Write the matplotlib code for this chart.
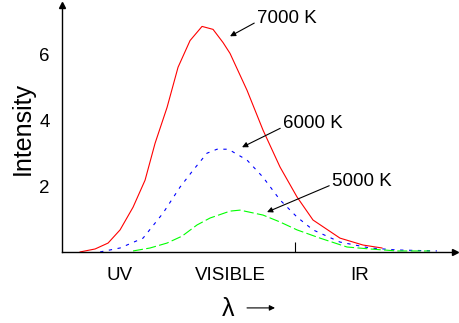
import numpy as np
import matplotlib.pyplot as plt

plt.rcParams['font.family'] = ['Liberation Sans', 'DejaVu Sans']

# curves (x in arbitrary wavelength units)
x7000 = [18, 33, 46, 58, 71, 83, 93, 105, 116, 128, 140, 151, 161, 168, 185, 201, 218, 235, 251, 278, 301, 320]
y7000 = [0.0, 0.09, 0.27, 0.67, 1.36, 2.18, 3.30, 4.39, 5.61, 6.42, 6.85, 6.76, 6.36, 6.03, 4.91, 3.70, 2.58, 1.67, 0.97, 0.42, 0.21, 0.12]

x6000 = [38, 58, 81, 101, 118, 131, 145, 155, 165, 168, 185, 201, 218, 235, 251, 278, 308, 335, 375]
y6000 = [0.0, 0.12, 0.42, 1.18, 1.97, 2.48, 3.0, 3.12, 3.12, 3.09, 2.79, 2.27, 1.58, 1.06, 0.67, 0.30, 0.12, 0.06, 0.03]

x5000 = [71, 88, 105, 120, 135, 148, 168, 178, 201, 218, 235, 258, 285, 308, 335, 368]
y5000 = [0.03, 0.12, 0.27, 0.48, 0.82, 1.03, 1.24, 1.27, 1.12, 0.91, 0.67, 0.42, 0.15, 0.09, 0.03, 0.03]

temps = ["7000 K", "6000 K", "5000 K"]
regions = ["UV", "VISIBLE", "IR"]
yticks = [2, 4, 6]

fig = plt.figure(figsize=(4.6, 3.23), dpi=100)
ax = fig.add_axes([0.135, 0.22, 0.854, 0.7645])

ax.plot(x7000, y7000, color='#ff0000', lw=0.8)
ax.plot(x6000, y6000, color='#0000ff', lw=0.8, dashes=(3, 5))
ax.plot(x5000, y5000, color='#00ff00', lw=0.8, dashes=(9, 3))

ax.set_xlim(0, 393)
ax.set_ylim(0, 7.5)
for s in ['top', 'right']:
    ax.spines[s].set_visible(False)
ax.spines['left'].set_linewidth(1)
ax.spines['bottom'].set_linewidth(1)

# arrow heads on the axes
ax.plot([0], [1], marker='^', color='k', ms=4, transform=ax.transAxes, clip_on=False)
ax.plot([1], [0], marker='>', color='k', ms=4, transform=ax.transAxes, clip_on=False)

ax.set_yticks(yticks)
ax.set_yticklabels([str(v) for v in yticks], fontsize=13.5)
ax.tick_params(axis='y', length=0, pad=9)
ax.set_xticks([233])
ax.set_xticklabels([])
ax.tick_params(axis='x', direction='in', length=7, width=0.8)

ax.set_ylabel("Intensity", fontsize=18, labelpad=3)

arw = dict(arrowstyle='-|>', color='k', lw=0.8, mutation_scale=8,
           shrinkA=0, shrinkB=0, relpos=(0, 0.3))
# temperature labels with arrows
ax.annotate(temps[0], xy=(168, 6.55), xytext=(195, 7.1), fontsize=13.5, va='center', arrowprops=arw)
ax.annotate(temps[1], xy=(180, 3.18), xytext=(221, 3.9), fontsize=13.5, va='center', arrowprops=arw)
ax.annotate(temps[2], xy=(205, 1.21), xytext=(270, 2.15), fontsize=13.5, va='center', arrowprops=arw)

# region labels below the axis
for lab, xp in zip(regions, [57, 168, 298]):
    ax.text(xp, -0.73, lab, fontsize=13.5, ha='center', va='center', clip_on=False)

ax.text(166, -1.73, "λ", fontsize=18, ha='center', va='center', clip_on=False)
ax.annotate("", xy=(213, -1.7), xytext=(185, -1.7), annotation_clip=False,
            arrowprops=dict(arrowstyle='-|>', color='k', lw=0.8, mutation_scale=8,
                            shrinkA=0, shrinkB=0))

fig.savefig("out.png", dpi=100)
